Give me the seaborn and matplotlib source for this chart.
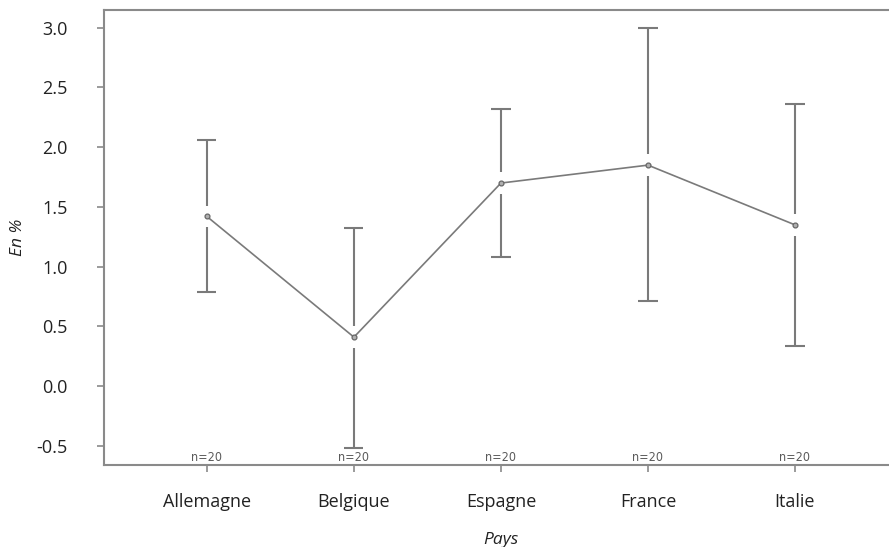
import matplotlib
matplotlib.use("Agg")
import matplotlib.pyplot as plt
import seaborn as sns
import pandas as pd

# values
pays = ["Allemagne", "Belgique", "Espagne", "France", "Italie"]
moyenne = [1.42, 0.41, 1.70, 1.85, 1.35]
borne_haute = [2.06, 1.32, 2.32, 3.00, 2.36]
borne_basse = [0.79, -0.52, 1.08, 0.71, 0.34]
effectifs = [20, 20, 20, 20, 20]
y_ticks = [-0.5, 0.0, 0.5, 1.0, 1.5, 2.0, 2.5, 3.0]

gris = "#7a7a7a"
gris_axe = "#8a8a8a"

sns.set_style("white")
plt.rcParams["font.family"] = ["Open Sans", "DejaVu Sans"]

df = pd.DataFrame({"Pays": pays, "moyenne": moyenne})

fig = plt.figure(figsize=(8.89, 5.47), dpi=100)
ax = fig.add_axes([0.117, 0.150, 0.893, 0.832])

sns.pointplot(data=df, x="Pays", y="moyenne", color=gris, errorbar=None,
              markers="o", linewidth=1.2, markersize=3.5,
              markerfacecolor="#b0b0b0", markeredgecolor="#666666", ax=ax)

# error bars with a small gap around the mean, like R's plotmeans
gap = 0.09
cap = 0.065
for i in range(len(pays)):
    ax.vlines(i, moyenne[i] + gap, borne_haute[i], color=gris, lw=1.5)
    ax.vlines(i, borne_basse[i], moyenne[i] - gap, color=gris, lw=1.5)
    ax.hlines([borne_haute[i], borne_basse[i]], i - cap, i + cap, color=gris, lw=1.5)
    ax.text(i, -0.66 + 0.012, f"n={effectifs[i]}", ha="center", va="bottom",
            fontsize=9, color="#5a5a5a", family="DejaVu Sans",
            fontstretch="condensed")

ax.set_xlim(-0.7, 4.7)
ax.set_ylim(-0.66, 3.15)
ax.set_yticks(y_ticks)
ax.set_yticklabels([f"{v:.1f}" for v in y_ticks])

for s in ["left", "top", "bottom", "right"]:
    ax.spines[s].set_color(gris_axe)
    ax.spines[s].set_linewidth(1.5)
ax.spines["right"].set_visible(False)

ax.tick_params(axis="both", which="both", direction="out", length=5,
               width=1.2, color=gris_axe, labelsize=13, labelcolor="#222222")
ax.tick_params(axis="y", pad=21, left=True)
ax.tick_params(axis="x", pad=15, bottom=True)

ax.set_xlabel("Pays", fontsize=12.5, style="italic", color="#222222", labelpad=15)
ax.set_ylabel("En %", fontsize=12.5, style="italic", color="#222222", labelpad=8)

fig.savefig("out.png", dpi=100)
